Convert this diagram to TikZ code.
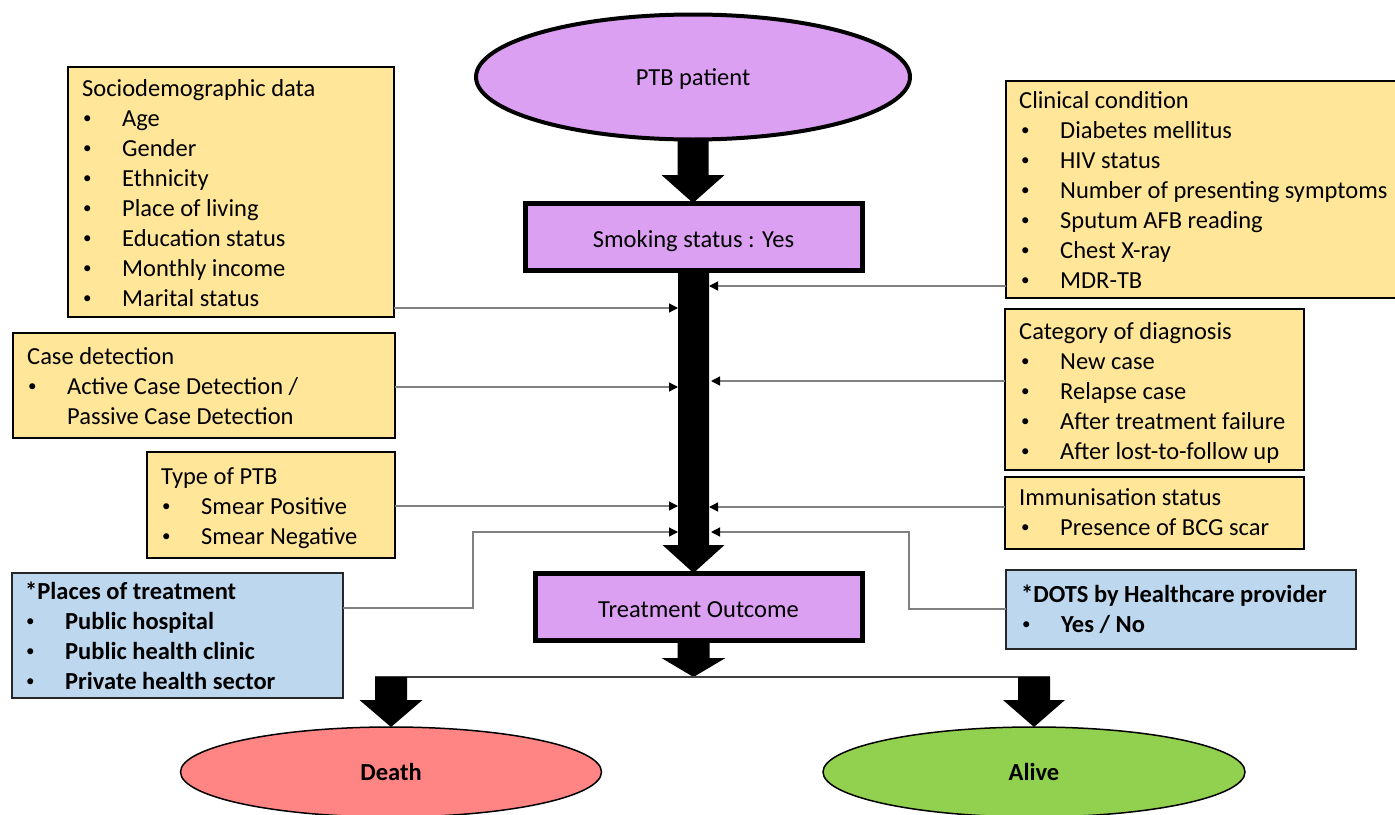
\documentclass[tikz,border=0pt]{standalone}
\usepackage{fontspec}
\setmainfont{Carlito}
\usetikzlibrary{arrows.meta,shapes.geometric,calc}
\definecolor{ptbpurple}{HTML}{DCA0F3}
\definecolor{ybg}{HTML}{FFE699}
\definecolor{bbg}{HTML}{BDD7EE}
\definecolor{deathc}{HTML}{FF8585}
\definecolor{alivec}{HTML}{92D050}
\definecolor{connc}{HTML}{808080}
\newcommand\bsize{\fontsize{24.5pt}{30pt}\selectfont}
\newcommand\smallbullet{\raisebox{2.2pt}{\fontsize{17pt}{17pt}\selectfont\mdseries •}}
\newcommand\lowered[2]{\raisebox{-#1pt}[0pt][0pt]{#2}}
\tikzset{
  txt/.style={anchor=base west, inner sep=0pt, font=\bsize},
  ybox/.style={draw=black, line width=1.6pt, fill=ybg, anchor=north west, inner sep=0pt, outer sep=0pt},
  bbox/.style={draw=black!85, line width=1.6pt, fill=bbg, anchor=north west, inner sep=0pt, outer sep=0pt},
  pbox/.style={draw=black, line width=5pt, fill=ptbpurple, inner sep=0pt, outer sep=0pt, font=\bsize},
  oval/.style={ellipse, draw=black, inner sep=0pt, outer sep=0pt, font=\bsize},
  conn/.style={draw=connc, line width=1.3pt, -{Triangle[length=9pt,width=9pt,color=black]}},
}
\newcommand\itemlist[5]{%
  \foreach \t [count=\i from 0] in {#5}{%
    \node[txt] (#1b\i) at (#2+1,#3+30*\i) {\smallbullet};
    \node[txt,font=\bsize#4] (#1\i) at (#2+40,#3+30*\i) {\t};
  }}
\newcommand\blockarrow[6]{%
  \fill let \p1=(#1), \p2=(#2), \p3=(#3) in
    (\x1-#4pt/2,\y2) -- (\x1-#4pt/2,\y3+#6pt) -- (\x1-#5pt/2,\y3+#6pt) -- (\x1,\y3)
    -- (\x1+#5pt/2,\y3+#6pt) -- (\x1+#4pt/2,\y3+#6pt) -- (\x1+#4pt/2,\y2) -- cycle;}
\begin{document}
\begin{tikzpicture}[x=1pt,y=-1pt]
\useasboundingbox (0,0) rectangle (1395,814);
\clip (0,0) rectangle (1395,814);
\fill[white] (0,0) rectangle (1395,814);

% central column
\node[oval, line width=4pt, fill=ptbpurple, minimum width=434pt, minimum height=125pt] (ptb) at (693,77) {\lowered{8.5}{PTB patient}};
\node[pbox, minimum width=337pt, minimum height=67pt] (smoke) at (693.5,236.5) {\lowered{10.5}{Smoking status : Yes}};
\node[pbox, minimum width=327pt, minimum height=67pt] (treat) at (698.5,606.5) {\lowered{10.5}{Treatment Outcome}};
\node[oval, line width=1.5pt, fill=deathc, minimum width=421pt, minimum height=90pt] (death) at (391,772) {\bfseries Death};
\node[oval, line width=1.5pt, fill=alivec, minimum width=422pt, minimum height=90pt] (alive) at (1034,772) {\bfseries Alive};

\coordinate (split) at (693.5,677);
\coordinate (lsplit) at (375,677);
\coordinate (rsplit) at (1050,677);

\blockarrow{ptb.south}{ptb.south}{smoke.north}{31}{63}{28}
\blockarrow{smoke.south}{smoke.south}{treat.north}{31}{62}{28}
\blockarrow{smoke.south}{treat.south}{split}{32}{64}{19}
\draw[line width=1.3pt, black!75] (lsplit) -- (rsplit);
\blockarrow{death.north}{lsplit}{death.north}{32}{63}{27}
\blockarrow{alive.north}{rsplit}{alive.north}{32}{62}{27}

% left boxes
\node[ybox, minimum width=326pt, minimum height=250pt] (socio) at (68,67) {};
\node[txt] (sociot) at (82,96) {Sociodemographic data};
\itemlist{socio}{82}{126}{}{Age,Gender,Ethnicity,Place of living,Education status,Monthly income,Marital status}

\node[ybox, minimum width=382pt, minimum height=105pt] (case) at (13,333) {};
\node[txt] (caset) at (27,364) {Case detection};
\itemlist{case}{27}{394}{}{Active Case Detection /}
\node[txt] (casec) at (67,424) {Passive Case Detection};

\node[ybox, minimum width=248pt, minimum height=106pt] (type) at (147,452) {};
\node[txt] (typet) at (161,484) {Type of PTB};
\itemlist{type}{161}{514}{}{Smear Positive,Smear Negative}

\node[bbox, minimum width=331pt, minimum height=125pt] (places) at (12,573) {};
\node[txt, font=\bsize\bfseries] (placest) at (25,599) {*Places of treatment};
\itemlist{places}{25}{629}{\bfseries}{Public hospital,Public health clinic,Private health sector}

% right boxes
\node[ybox, minimum width=400pt, minimum height=217pt] (clin) at (1006,81) {};
\node[txt] (clint) at (1019,108) {Clinical condition};
\itemlist{clin}{1020}{138}{}{Diabetes mellitus,HIV status,Number of presenting symptoms,Sputum AFB reading,Chest X-ray,MDR-TB}

\node[ybox, minimum width=299pt, minimum height=161pt] (cat) at (1005,309) {};
\node[txt] (catt) at (1019,339) {Category of diagnosis};
\itemlist{cat}{1020}{369}{}{New case,Relapse case,After treatment failure,After lost-to-follow up}

\node[ybox, minimum width=299pt, minimum height=72pt] (imm) at (1005,477) {};
\node[txt] (immt) at (1019,505) {Immunisation status};
\itemlist{imm}{1020}{535}{}{Presence of BCG scar}

\node[bbox, minimum width=350pt, minimum height=79pt] (dots) at (1006,570) {};
\node[txt, font=\bsize\bfseries] (dotst) at (1021,602) {*DOTS by Healthcare provider};
\itemlist{dots}{1021}{632}{\bfseries}{{Yes / No}}

% connector targets on the central arrow
\coordinate (in1) at (678,308);
\coordinate (in2) at (678,387);
\coordinate (in3) at (678,506);
\coordinate (in4) at (678,532);
\coordinate (out1) at (709,286);
\coordinate (out2) at (711,381);
\coordinate (out3) at (709,507);
\coordinate (out4) at (711,532);

\draw[conn] ($(socio.south east)+(0,-9)$) -- (in1);
\draw[conn] ($(case.south east)+(0,-51)$) -- (in2);
\draw[conn] ($(type.south east)+(0,-52)$) -- (in3);
\draw[conn] ($(places.north east)+(0,35)$) -- (473,608) |- (in4);
\draw[conn] ($(clin.south west)+(0,-12)$) -- (out1);
\draw[conn] ($(cat.north west)+(0,72)$) -- (out2);
\draw[conn] ($(imm.north west)+(0,30)$) -- (out3);
\draw[conn] ($(dots.north west)+(0,39)$) -- (909,609) |- (out4);
\end{tikzpicture}
\end{document}
